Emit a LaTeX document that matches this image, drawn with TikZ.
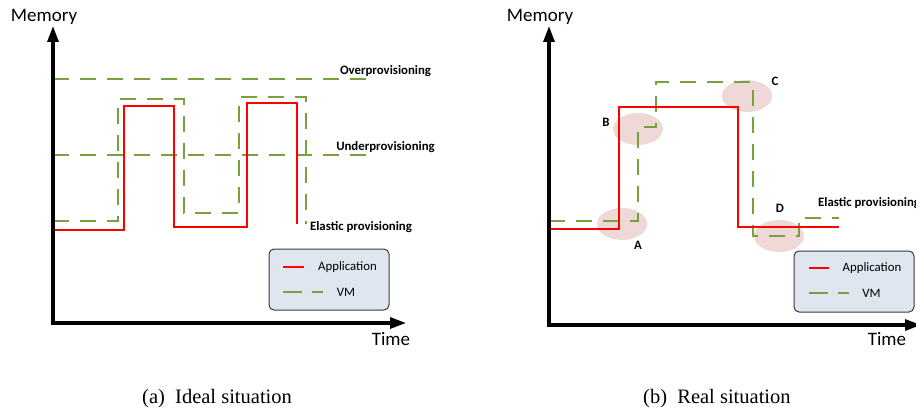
\documentclass[tikz,border=0pt]{standalone}
\usepackage{fontspec}
\setmainfont{Carlito}
\newfontfamily\capfont{Liberation Serif}
\usetikzlibrary{arrows.meta}
\definecolor{vmgreen}{HTML}{77A03F}
\definecolor{appred}{HTML}{FF0000}
\definecolor{legfill}{HTML}{DFE6F0}
\definecolor{legdraw}{HTML}{3A3A3A}
\definecolor{spot}{HTML}{EBCFCC}
\tikzset{
  axis/.style={line width=3.2pt,-{Triangle[length=16pt,width=11pt]}},
  appline/.style={appred,line width=2.4pt},
  vmline/.style={vmgreen,line width=2.4pt,dash pattern=on 16pt off 11pt},
  legbox/.style={draw=legdraw,fill=legfill,line width=1pt,rounded corners=5pt},
  bigtxt/.style={font=\fontsize{19}{20}\selectfont,inner sep=0pt},
  smalltxt/.style={font=\fontsize{12.8}{14}\selectfont,inner sep=0pt},
  boldtxt/.style={font=\fontsize{12.8}{14}\selectfont\bfseries,inner sep=0pt},
  captxt/.style={font=\capfont\fontsize{20.5}{22}\selectfont,inner sep=0pt},
  spotmark/.style={fill=spot,opacity=0.8,draw=none},
}
\begin{document}
\begin{tikzpicture}[x=1pt,y=-1pt]
\useasboundingbox (0,0) rectangle (916,409);
% ---------------- left panel ----------------
\coordinate (o1) at (53,323);
\coordinate (ytop1) at (53,26);
\coordinate (xend1) at (406,323);
\draw[vmline] (53,79) -- (368,79);
\draw[vmline] (53,155) -- (368,155);
\draw[vmline] (53,221) -- (118,221) -- (118,99) -- (184,99) -- (184,213) -- (239,213) -- (239,97) -- (306,97) -- (306,224);
\draw[appline] (53,230) -- (124,230) -- (124,106) -- (174,106) -- (174,227) -- (247,227) -- (247,103) -- (297,103) -- (297,224);
\draw[axis] (53,325) -- (ytop1);
\draw[axis] (51.4,323) -- (xend1);
\node[bigtxt] (mem1) at (44,17) {Memory};
\node[bigtxt] (time1) at (391,339) {Time};
\node[boldtxt] (over) at (385.5,71) {Overprovisioning};
\node[boldtxt] (under) at (385.5,147) {Underprovisioning};
\node[boldtxt] (elast1) at (361,227) {Elastic provisioning};
\node[legbox,minimum width=120pt,minimum height=61pt] (leg1) at (329,279.5) {};
\draw[appline] (283,267) -- (304,267);
\node[smalltxt] (app1) at (347.5,267) {Application};
\draw[vmline,dash pattern=on 19pt off 10pt] (283,292) -- (323,292);
\node[smalltxt] (vm1) at (346,292) {VM};
\node[captxt,anchor=west] (cap1) at (142,399) {(a)\hspace{0.5em}Ideal situation};
% ---------------- right panel ----------------
\coordinate (o2) at (549,325);
\coordinate (ytop2) at (549,26);
\coordinate (xend2) at (921,325);
\fill[spotmark] (622,224) ellipse [x radius=25, y radius=16];
\fill[spotmark] (638,129) ellipse [x radius=25, y radius=16];
\fill[spotmark] (747,96) ellipse [x radius=25, y radius=16];
\fill[spotmark] (779,236) ellipse [x radius=25, y radius=16];
\draw[vmline] (549,221) -- (638,221) -- (638,127) -- (656,127) -- (656,82) -- (753,82) -- (753,236) -- (799,236) -- (799,218) -- (839,218);
\draw[appline] (549,229) -- (619,229) -- (619,107) -- (738,107) -- (738,227) -- (839,227);
\draw[axis] (549,327) -- (ytop2);
\draw[axis] (547.4,325) -- (xend2);
\node[bigtxt] (mem2) at (540,17) {Memory};
\node[bigtxt] (time2) at (887,339) {Time};
\node[boldtxt,anchor=west] (elast2) at (818,203) {Elastic provisioning};
\node[boldtxt] (lA) at (638,245) {A};
\node[boldtxt] (lB) at (606,122) {B};
\node[boldtxt] (lC) at (775,81) {C};
\node[boldtxt] (lD) at (780,208) {D};
\node[legbox,minimum width=120pt,minimum height=61pt] (leg2) at (854,281.5) {};
\draw[appline] (809,268) -- (829,268);
\node[smalltxt] (app2) at (872,268) {Application};
\draw[vmline,dash pattern=on 19pt off 10pt] (809,293) -- (849,293);
\node[smalltxt] (vm2) at (871.5,293) {VM};
\node[captxt,anchor=west] (cap2) at (643,399) {(b)\hspace{0.5em}Real situation};
\end{tikzpicture}
\end{document}
